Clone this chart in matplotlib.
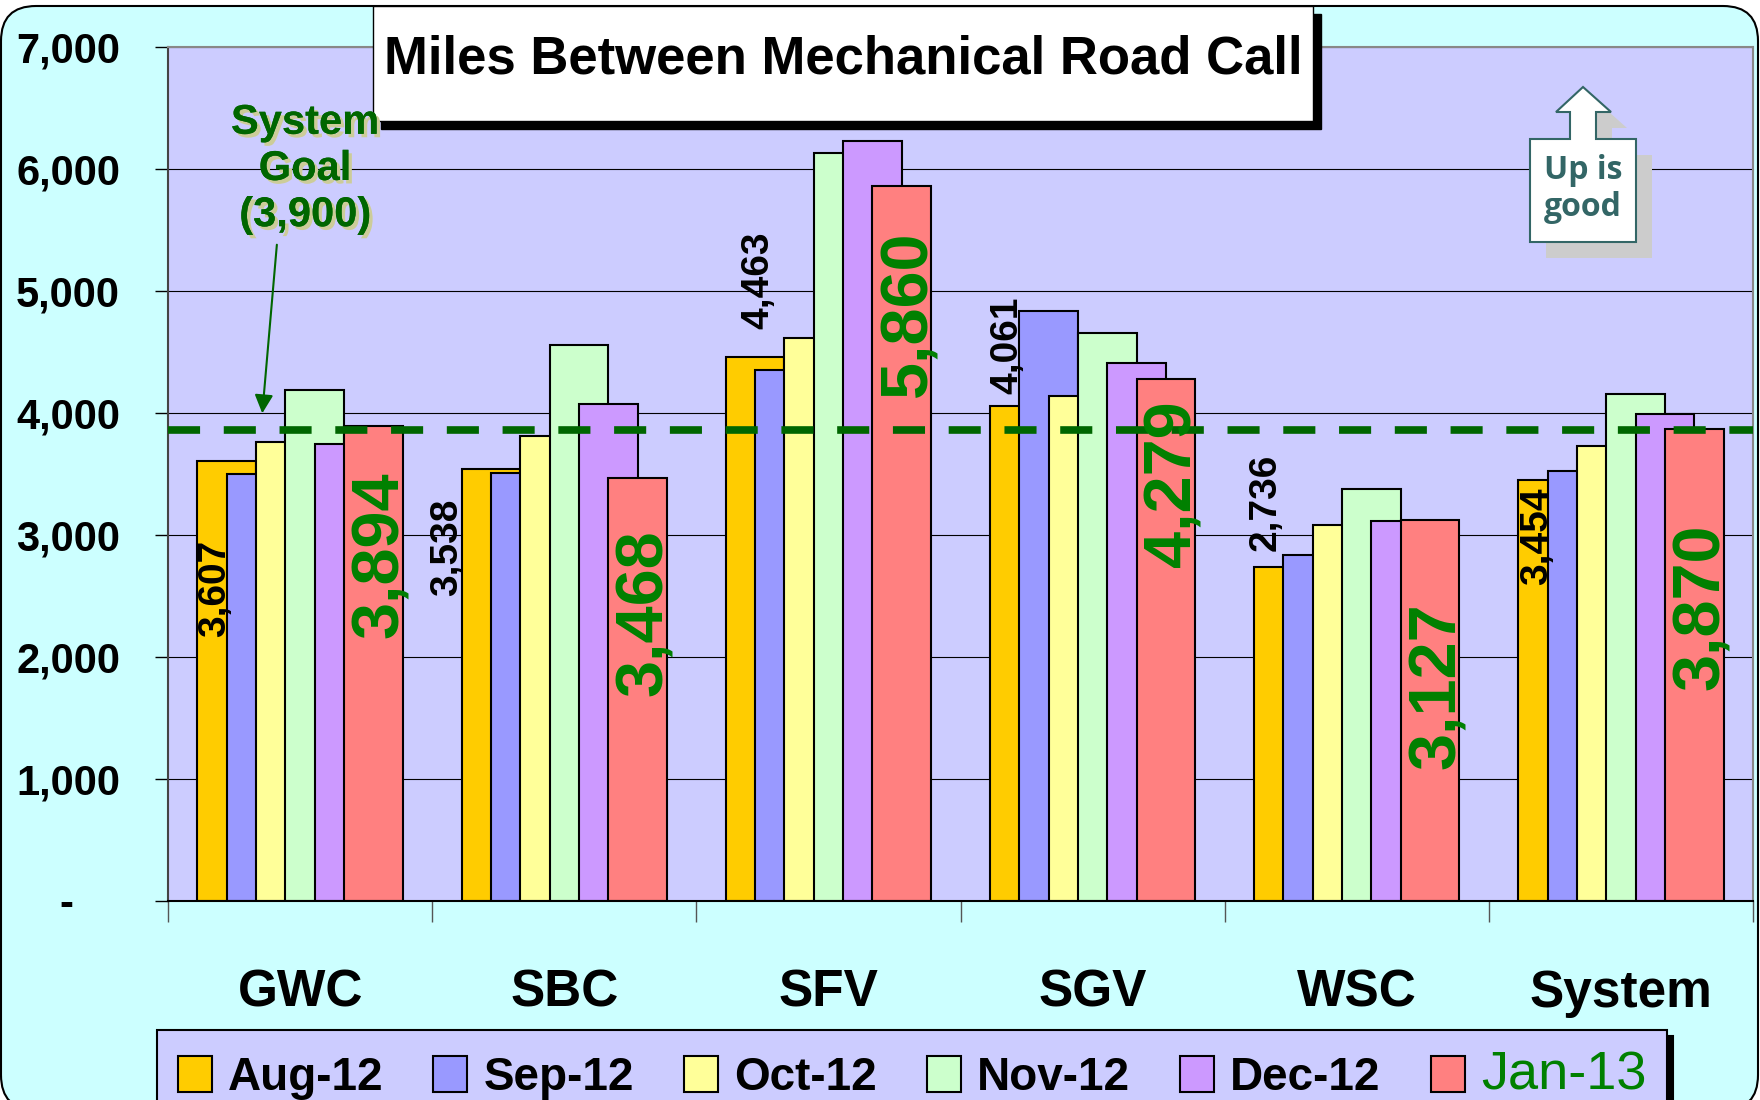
"""Miles Between Mechanical Road Call, Aug-12 to Jan-13, by sector."""

import matplotlib

matplotlib.use("Agg")
import matplotlib.pyplot as plt
import matplotlib.patheffects as pe
import numpy as np
from matplotlib import font_manager
from matplotlib.patches import FancyBboxPatch, Polygon, Rectangle

regions = ["GWC", "SBC", "SFV", "SGV", "WSC", "System"]
months = ["Aug-12", "Sep-12", "Oct-12", "Nov-12", "Dec-12", "Jan-13"]
aug_12 = [3607, 3538, 4463, 4061, 2736, 3454]
sep_12 = [3500, 3512, 4352, 4836, 2836, 3525]
oct_12 = [3762, 3811, 4615, 4139, 3082, 3730]
nov_12 = [4188, 4557, 6131, 4656, 3377, 4156]
dec_12 = [3746, 4074, 6230, 4410, 3115, 3992]
jan_13 = [3894, 3468, 5860, 4279, 3127, 3870]
goal = 3900
goal_line_at = 3860  # the dashed line sits a hair under the stated goal in the original
yticks = [0, 1000, 2000, 3000, 4000, 5000, 6000, 7000]

colors = ["#FFCC00", "#9999FF", "#FFFF99", "#CCFFCC", "#CC99FF", "#FF8080"]

# where the original put its (rotated) value labels, in data units
aug_label_y = [2566, 2902, 5090, 4557, 3270, 2992]
aug_label_dx = [-0.044, -0.165, 0.013, -0.044, -0.066, -0.04]
jan_label_y = [2836, 2361, 4811, 3418, 1762, 2410]

W, H, DPI = 1760, 1100, 100

names = {f.name for f in font_manager.fontManager.ttflist}
HAS_NARROW = "Liberation Sans Narrow" in names
narrow = ["Liberation Sans Narrow", "Liberation Sans", "DejaVu Sans"] if HAS_NARROW else ["Liberation Sans", "DejaVu Sans"]
ytick_size = 34 if HAS_NARROW else 30
cat_size = 43 if HAS_NARROW else 37
jan_leg_size = 44 if HAS_NARROW else 39

plt.rcParams["font.family"] = ["Liberation Sans", "DejaVu Sans"]


def px(x, y):
    """Pixel position (from top-left) to inches for fig.dpi_scale_trans."""
    return x / DPI, (H - y) / DPI


fig = plt.figure(figsize=(W / DPI, H / DPI), dpi=DPI, facecolor="white")
inch = fig.dpi_scale_trans

# cyan panel with rounded border
x0, y0 = px(1, 1110)
fig.patches.append(FancyBboxPatch((x0, y0), 17.57, (1110 - 6) / DPI,
                                  boxstyle="round,pad=0,rounding_size=0.35",
                                  transform=inch, fc="#CCFFFF", ec="black", lw=1.5, zorder=-1))

ax = fig.add_axes([168 / W, 1 - 901 / H, 1585 / W, 854 / H])
ax.set_facecolor("#CCCCFF")

series = [aug_12, sep_12, oct_12, nov_12, dec_12, jan_13]
x = np.arange(len(regions))
step, width = 0.111, 0.222
for j, (vals, lab, col) in enumerate(zip(series, months, colors)):
    ax.bar(x + (j - 2.5) * step, vals, width, color=col, edgecolor="black",
           linewidth=1.5, label=lab, zorder=2)

ax.axhline(goal_line_at, color="#006600", lw=5.5, dashes=(4.2, 3.1), zorder=3)

for i in range(len(regions)):
    ax.text(x[i] - 2.5 * step + aug_label_dx[i], aug_label_y[i], f"{aug_12[i]:,}",
            rotation=90, ha="center", va="center", fontsize=28, fontweight="bold",
            color="black", zorder=4)
    ax.text(x[i] + 2.5 * step + 0.03, jan_label_y[i], f"{jan_13[i]:,}",
            rotation=90, ha="center", va="center", fontsize=48, fontweight="bold",
            color="#008000", zorder=4)

ax.set_xlim(-0.5, len(regions) - 0.5)
ax.set_ylim(0, 7000)
ax.set_yticks(yticks, labels=["-    " if v == 0 else f"{v:,}" for v in yticks],
              fontsize=ytick_size, fontweight="bold", family=narrow)
ax.set_xticks(np.arange(-0.5, len(regions), 1.0), labels=[])
ax.tick_params(axis="y", direction="out", length=9.5, width=1, pad=25)
ax.tick_params(axis="x", direction="out", length=15, width=1, color="#555555")
ax.yaxis.grid(True, color="black", lw=0.8)
ax.set_axisbelow(True)
for side, c in [("left", "#444444"), ("top", "#888888"), ("right", "#888888"), ("bottom", "black")]:
    ax.spines[side].set_color(c)
    ax.spines[side].set_linewidth(1.5)

for i, name in enumerate(regions):
    ax.text(x[i], -0.108, name, transform=ax.get_xaxis_transform(), ha="center",
            va="center", fontsize=cat_size, fontweight="bold", family=narrow, clip_on=False)

# goal callout (figure-level so it sits over the title box)
fig.text(0.019, 6000, f"System\nGoal\n({goal:,})", transform=ax.transData, ha="center",
         va="center", fontsize=30, fontweight="bold", color="#006600", linespacing=1.2,
         zorder=8, path_effects=[pe.withSimplePatchShadow(offset=(2.5, -2.5),
                                                          shadow_rgbFace="#CCCC99", alpha=1),
                                 pe.Normal()])
ax.annotate("", xy=(-0.144, 3975), xytext=(-0.087, 5402),
            arrowprops=dict(arrowstyle="-|>", color="#006600", lw=1.5, mutation_scale=28),
            zorder=6)

# title box with heavy drop shadow
bx, by = px(373, 121)
fig.patches.append(Rectangle((bx + 0.08, by - 0.08), 9.4, 1.15, transform=inch,
                             fc="black", ec="black", zorder=2))
fig.patches.append(Rectangle((bx, by), 9.4, 1.15, transform=inch,
                             fc="white", ec="black", lw=1, zorder=3))
fig.text(*px(843, 59), "Miles Between Mechanical Road Call", transform=inch,
         ha="center", va="center", fontsize=38, fontweight="bold", zorder=4)

# "Up is good" arrow callout
callout = [(1583, 87), (1611, 112), (1596, 112), (1596, 139), (1636, 139), (1636, 242),
           (1530, 242), (1530, 139), (1570, 139), (1570, 112), (1556, 112)]
fig.patches.append(Polygon([px(a + 16, b + 16) for a, b in callout], closed=True,
                           transform=inch, fc="#CCCCCC", ec="none", zorder=4))
fig.patches.append(Polygon([px(a, b) for a, b in callout], closed=True,
                           transform=inch, fc="white", ec="#336666", lw=1.5, zorder=5))
fig.text(*px(1583, 189), "Up is\ngood", transform=inch, ha="center", va="center",
         fontsize=23, fontweight="bold", family=["Open Sans", "DejaVu Sans"],
         color="#336666", linespacing=1.15, zorder=6)

handles, labels = ax.get_legend_handles_labels()
leg = fig.legend(handles, labels, ncol=6, loc="upper left", mode="expand",
                 bbox_to_anchor=(157 / W, 0, 1510 / W, 1 - 1030 / H), borderaxespad=0,
                 prop={"family": "Liberation Sans", "weight": "bold", "size": 33},
                 handlelength=0.74, handleheight=0.83, handletextpad=0.35, borderpad=0.45,
                 fancybox=False, framealpha=1,
                 shadow={"color": "black", "alpha": 1, "ox": 4, "oy": -4})
leg.get_frame().set_facecolor("#CCCCFF")
leg.get_frame().set_edgecolor("black")
leg.get_frame().set_linewidth(1.5)
jan_txt = leg.get_texts()[-1]
jan_txt.set_color("#008000")
jan_txt.set_fontweight("normal")
jan_txt.set_fontfamily(narrow)
jan_txt.set_fontsize(jan_leg_size)

fig.savefig("out.png", dpi=DPI)
plt.close(fig)
